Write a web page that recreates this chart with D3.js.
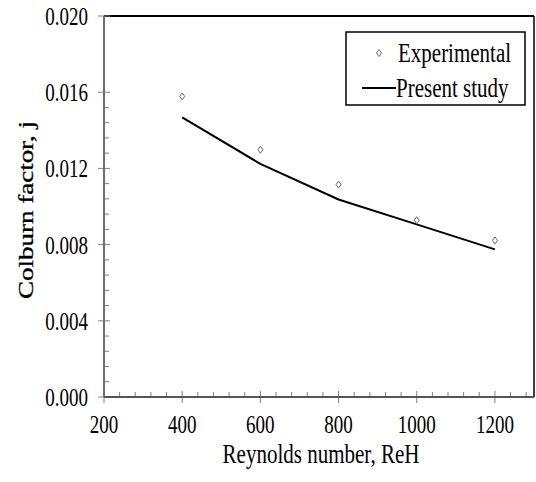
<!DOCTYPE html>
<html>
<head>
<meta charset="utf-8">
<script src="https://cdn.jsdelivr.net/npm/d3@7"></script>
<style>
  body { margin: 0; background: #fff; }
</style>
</head>
<body>
<script>
const reynolds = [400, 600, 800, 1000, 1200]
const experimental = [0.01578, 0.01298, 0.01115, 0.00928, 0.00822]
const presentStudy = [0.01468, 0.01224, 0.01037, 0.00906, 0.00775]
const xTicks = [200, 400, 600, 800, 1000, 1200]
const yTicks = [0, 0.004, 0.008, 0.012, 0.016, 0.020]

const width = 536
const height = 482
const sy = 1.35 // text is drawn a bit tall and narrow
const serif = "'Liberation Serif', 'Times New Roman', Times, serif"

let svg = d3.select('body').append('svg')
    .attr('width', width)
    .attr('height', height)
    .attr('font-family', serif)

let x = d3.scaleLinear().domain([200, 1300]).range([104, 534])
let y = d3.scaleLinear().domain([0, 0.02]).range([397, 16])

// frame: top and right in black
svg.append('line').attr('x1', 104).attr('x2', 534).attr('y1', y(0.02)).attr('y2', y(0.02))
    .attr('stroke', '#000').attr('stroke-width', 2)
svg.append('line').attr('x1', 534).attr('x2', 534).attr('y1', y(0.02)).attr('y2', y(0))
    .attr('stroke', '#000').attr('stroke-width', 1.5)

// minor ticks
let xMinor = d3.range(200, 1300.1, 40).filter(v => !xTicks.includes(v))
let yMinor = d3.range(0, 21).map(i => i * 0.0008).filter(v => !yTicks.some(t => Math.abs(t - v) < 1e-9))

svg.selectAll('.xminor').data(xMinor).join('line')
    .attr('x1', d => x(d)).attr('x2', d => x(d))
    .attr('y1', y(0)).attr('y2', y(0) - 5)
    .attr('stroke', '#808080').attr('stroke-width', 1)
svg.selectAll('.yminor').data(yMinor).join('line')
    .attr('x1', x(200)).attr('x2', x(200) + 5)
    .attr('y1', d => y(d)).attr('y2', d => y(d))
    .attr('stroke', '#808080').attr('stroke-width', 1)

// major ticks cross the axis
svg.selectAll('.xmajor').data(xTicks).join('line')
    .attr('x1', d => x(d)).attr('x2', d => x(d))
    .attr('y1', y(0) - 6).attr('y2', y(0) + 6)
    .attr('stroke', '#808080').attr('stroke-width', 1)
svg.selectAll('.ymajor').data(yTicks).join('line')
    .attr('x1', x(200) - 6).attr('x2', x(200) + 6)
    .attr('y1', d => y(d)).attr('y2', d => y(d))
    .attr('stroke', '#808080').attr('stroke-width', 1)

// axis lines
svg.append('line').attr('x1', x(200)).attr('x2', x(200)).attr('y1', y(0.02)).attr('y2', y(0))
    .attr('stroke', '#6e6e6e').attr('stroke-width', 2)
svg.append('line').attr('x1', x(200)).attr('x2', 534).attr('y1', y(0)).attr('y2', y(0))
    .attr('stroke', '#555').attr('stroke-width', 2)

// tick labels
svg.selectAll('.xlab').data(xTicks).join('text')
    .attr('transform', d => `translate(${x(d)},424) scale(1,${sy})`)
    .attr('text-anchor', 'middle').attr('dy', '0.35em')
    .attr('font-size', 19)
    .text(d => d)
svg.selectAll('.ylab').data(yTicks).join('text')
    .attr('transform', d => `translate(88,${y(d)}) scale(1,${sy})`)
    .attr('text-anchor', 'end').attr('dy', '0.35em')
    .attr('font-size', 19)
    .text(d => d3.format('.3f')(d))

// axis titles
svg.append('text')
    .attr('transform', `translate(321,453) scale(1,${sy})`)
    .attr('text-anchor', 'middle').attr('dy', '0.35em')
    .attr('font-size', 21)
    .text('Reynolds number, ReH')
svg.append('text')
    .attr('transform', `translate(26,210) rotate(-90) scale(${sy},1)`)
    .attr('text-anchor', 'middle').attr('dy', '0.35em')
    .attr('font-size', 20)
    .attr('stroke', '#000').attr('stroke-width', 0.3)
    .text('Colburn factor, j')

// present study line
let line = d3.line().x((d, i) => x(reynolds[i])).y(d => y(d))
svg.append('path').datum(presentStudy)
    .attr('d', line)
    .attr('fill', 'none').attr('stroke', '#000').attr('stroke-width', 2)

// experimental diamonds
let diamond = 'M0,-3.5 L2.5,0 L0,3.5 L-2.5,0 Z'
svg.selectAll('.exp').data(experimental).join('path')
    .attr('d', diamond)
    .attr('transform', (d, i) => `translate(${x(reynolds[i])},${y(d)})`)
    .attr('fill', '#fff').attr('stroke', '#666').attr('stroke-width', 1)

// legend
let legend = svg.append('g')
legend.append('rect').attr('x', 346).attr('y', 32).attr('width', 179).attr('height', 73)
    .attr('fill', '#fff').attr('stroke', '#000').attr('stroke-width', 1.5)
legend.append('path').attr('d', diamond).attr('transform', 'translate(379,53)')
    .attr('fill', '#fff').attr('stroke', '#666').attr('stroke-width', 1)
legend.append('text')
    .attr('transform', `translate(398,52) scale(1,${sy})`)
    .attr('dy', '0.35em').attr('font-size', 21)
    .text('Experimental')
legend.append('line').attr('x1', 362).attr('x2', 396).attr('y1', 88).attr('y2', 88)
    .attr('stroke', '#000').attr('stroke-width', 2)
legend.append('text')
    .attr('transform', `translate(396,87) scale(1,${sy})`)
    .attr('dy', '0.35em').attr('font-size', 21)
    .text('Present study')
</script>
</body>
</html>
